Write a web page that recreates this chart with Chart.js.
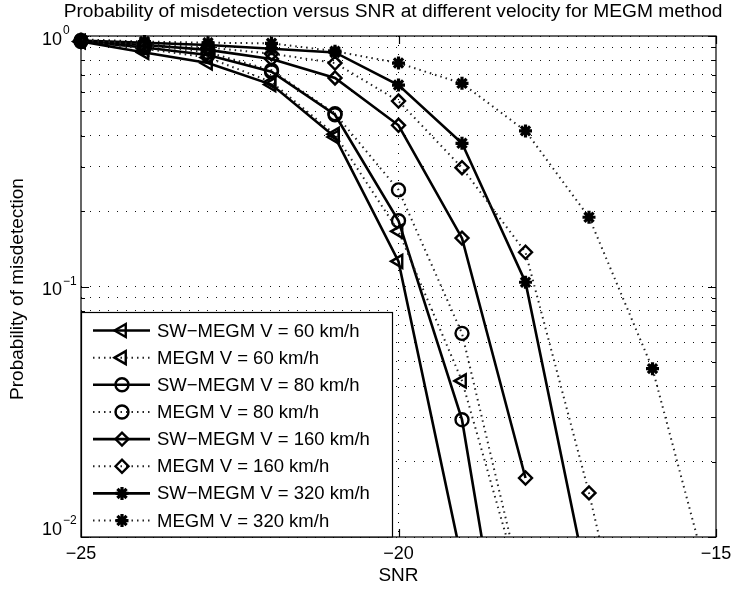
<!DOCTYPE html>
<html>
<head>
<meta charset="utf-8">
<script src="https://cdn.jsdelivr.net/npm/chart.js@4"></script>
<style>
    html, body { margin: 0; padding: 0; background: #fff; }
    #wrap { width: 735px; height: 591px; position: relative; }
</style>
</head>
<body>
<div id="wrap"><canvas id="grafico"></canvas></div>
<script>
// Datos (SNR en dB, probabilidad de no detección)
const snr = [-25, -24, -23, -22, -21, -20, -19, -18, -17, -16, -15];

const swMegm60  = [0.95, 0.86, 0.78, 0.64, 0.395, 0.126, 0.008];
const megm60    = [0.95, 0.89, 0.82, 0.655, 0.405, 0.166, 0.042, 0.0054];
const swMegm80  = [0.95, 0.90, 0.84, 0.72, 0.485, 0.183, 0.0294, 0.0009];
const megm80    = [0.96, 0.92, 0.86, 0.73, 0.49, 0.243, 0.065, 0.0055];
const swMegm160 = [0.95, 0.92, 0.88, 0.81, 0.68, 0.44, 0.156, 0.0172];
const megm160   = [0.96, 0.93, 0.90, 0.85, 0.78, 0.55, 0.298, 0.137, 0.0150, 0.0012];
const swMegm320 = [0.96, 0.94, 0.92, 0.89, 0.86, 0.637, 0.373, 0.104, 0.0061];
const megm320   = [0.97, 0.95, 0.94, 0.935, 0.87, 0.78, 0.647, 0.418, 0.189, 0.047, 0.0052];

const xTicks = [-25, -20, -15];
const xTickLabels = ['\u221225', '\u221220', '\u221215'];
const yMajor = [0.01, 0.1, 1];
const yExpLabels = ['\u22122', '\u22121', '0'];
const yGrid = [0.01, 0.02, 0.03, 0.04, 0.05, 0.06, 0.07, 0.08, 0.09,
               0.1, 0.2, 0.3, 0.4, 0.5, 0.6, 0.7, 0.8, 0.9, 1];

const titulo = 'Probability of misdetection versus SNR at different velocity for MEGM method';
const FONT = '"Liberation Sans", Arial, Helvetica, sans-serif';

function puntos(vals) {
    return vals.map((v, i) => ({ x: snr[i], y: v }));
}

function serie(label, vals, solid, style) {
    const s = {
        label: label,
        data: puntos(vals),
        borderColor: solid ? '#000' : '#222',
        borderWidth: solid ? 2.6 : 2,
        borderDash: solid ? [] : [1.5, 4],
        pointStyle: style,
        pointRotation: style === 'triangle' ? -90 : 0,
        pointRadius: style === 'triangle' ? 7.5 : 6.5,
        pointBorderWidth: style === 'star' ? 3.2 : 2.4,
        pointBorderColor: '#000',
        pointBackgroundColor: 'rgba(0,0,0,0)',
        tension: 0,
        clip: { left: 12, top: 12, right: 0, bottom: 0 }
    };
    return s;
}

// Ejes, marcas, leyenda y textos al estilo MATLAB
const marcoPlugin = {
    id: 'marco',
    afterDatasetsDraw(chart) {
        const ctx = chart.ctx;
        const a = chart.chartArea;
        const xs = chart.scales.x, ys = chart.scales.y;
        ctx.save();
        ctx.strokeStyle = '#000';
        ctx.lineWidth = 1.2;
        ctx.setLineDash([]);
        ctx.strokeRect(a.left, a.top, a.right - a.left, a.bottom - a.top);

        // marcas hacia dentro
        ctx.beginPath();
        yGrid.forEach(v => {
            const y = Math.round(ys.getPixelForValue(v)) + 0.5;
            const len = yMajor.includes(v) ? 8 : 4;
            ctx.moveTo(a.left, y); ctx.lineTo(a.left + len, y);
            ctx.moveTo(a.right, y); ctx.lineTo(a.right - len, y);
        });
        xTicks.forEach(v => {
            const x = Math.round(xs.getPixelForValue(v)) + 0.5;
            ctx.moveTo(x, a.bottom); ctx.lineTo(x, a.bottom - 8);
            ctx.moveTo(x, a.top); ctx.lineTo(x, a.top + 8);
        });
        ctx.stroke();

        // leyenda
        const lx = a.left, lw = 311, lh = 225;
        const ly = a.bottom - lh;
        ctx.fillStyle = '#fff';
        ctx.fillRect(lx, ly, lw, lh);
        ctx.lineWidth = 1.2;
        ctx.strokeRect(lx + 0.5, ly + 0.5, lw, lh - 0.5);
        chart.data.datasets.forEach((ds, i) => {
            const y = ly + 18.5 + i * 27.15;
            ctx.strokeStyle = ds.borderColor;
            ctx.lineWidth = ds.borderWidth;
            ctx.setLineDash(ds.borderDash);
            ctx.beginPath();
            ctx.moveTo(lx + 12, y); ctx.lineTo(lx + 69, y);
            ctx.stroke();
            ctx.setLineDash([]);
            ctx.strokeStyle = '#000';
            ctx.fillStyle = ds.pointBackgroundColor;
            ctx.lineWidth = ds.pointBorderWidth;
            Chart.helpers.drawPoint(ctx, {
                pointStyle: ds.pointStyle,
                rotation: ds.pointRotation,
                radius: ds.pointRadius,
                borderWidth: ds.pointBorderWidth
            }, lx + 41, y);
            ctx.fillStyle = '#000';
            ctx.font = '18.5px ' + FONT;
            ctx.textBaseline = 'middle';
            ctx.textAlign = 'left';
            ctx.fillText(ds.label, lx + 76, y + 1);
        });
        ctx.restore();
    },
    afterDraw(chart) {
        const ctx = chart.ctx;
        const a = chart.chartArea;
        const xs = chart.scales.x, ys = chart.scales.y;
        ctx.save();
        ctx.fillStyle = '#000';

        // etiquetas eje x
        ctx.font = '18px ' + FONT;
        ctx.textAlign = 'center';
        ctx.textBaseline = 'middle';
        xTicks.forEach((v, i) => {
            ctx.fillText(xTickLabels[i], xs.getPixelForValue(v), a.bottom + 17);
        });
        ctx.font = '19px ' + FONT;
        ctx.fillText('SNR', (a.left + a.right) / 2, a.bottom + 39);

        // etiquetas eje y (10 con exponente)
        const offs = [-7, 4, 4];
        yMajor.forEach((v, i) => {
            const y = ys.getPixelForValue(v) + offs[i];
            ctx.font = '18px ' + FONT;
            ctx.textAlign = 'right';
            ctx.fillText('10', a.left - 19, y);
            ctx.font = '12px ' + FONT;
            ctx.textAlign = 'left';
            ctx.fillText(yExpLabels[i], a.left - 18, y - 9);
        });

        // título del eje y
        ctx.save();
        ctx.translate(18, 289);
        ctx.rotate(-Math.PI / 2);
        ctx.font = '19px ' + FONT;
        ctx.textAlign = 'center';
        ctx.fillText('Probability of misdetection', 0, 0);
        ctx.restore();

        // título
        ctx.font = '19.2px ' + FONT;
        ctx.textAlign = 'center';
        ctx.fillText(titulo, 393, 12);
        ctx.restore();
    }
};

const ctx = document.getElementById('grafico').getContext('2d');
new Chart(ctx, {
    type: 'line',
    data: {
        datasets: [
            serie('SW\u2212MEGM V = 60 km/h', swMegm60, true, 'triangle'),
            serie('MEGM V = 60 km/h', megm60, false, 'triangle'),
            serie('SW\u2212MEGM V = 80 km/h', swMegm80, true, 'circle'),
            serie('MEGM V = 80 km/h', megm80, false, 'circle'),
            serie('SW\u2212MEGM V = 160 km/h', swMegm160, true, 'rectRot'),
            serie('MEGM V = 160 km/h', megm160, false, 'rectRot'),
            serie('SW\u2212MEGM V = 320 km/h', swMegm320, true, 'star'),
            serie('MEGM V = 320 km/h', megm320, false, 'star')
        ]
    },
    options: {
        responsive: true,
        maintainAspectRatio: false,
        animation: false,
        devicePixelRatio: 1,
        layout: { padding: { left: 81, top: 36, right: 19, bottom: 54 } },
        plugins: {
            legend: { display: false },
            title: { display: false },
            tooltip: { enabled: false }
        },
        scales: {
            x: {
                type: 'linear',
                min: -25,
                max: -15,
                afterBuildTicks: ax => { ax.ticks = xTicks.map(v => ({ value: v })); },
                ticks: { display: false },
                grid: {
                    color: c => (c.tick && c.tick.value === -20) ? '#000' : 'rgba(0,0,0,0)',
                    lineWidth: 1,
                    drawTicks: false
                },
                border: { display: false, dash: [1, 8] }
            },
            y: {
                type: 'logarithmic',
                min: 0.01,
                max: 1,
                afterBuildTicks: ax => { ax.ticks = yGrid.map(v => ({ value: v })); },
                ticks: { display: false },
                grid: { color: '#111', lineWidth: 1, drawTicks: false },
                border: { display: false, dash: [1, 8] }
            }
        }
    },
    plugins: [marcoPlugin]
});
</script>
</body>
</html>
